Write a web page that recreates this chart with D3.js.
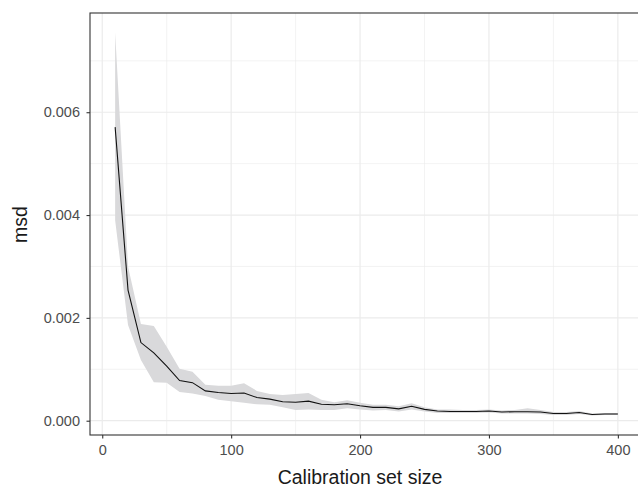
<!DOCTYPE html>
<html>
<head>
<meta charset="utf-8">
<script src="https://cdn.jsdelivr.net/npm/d3@7"></script>
<style>
  body { margin: 0; background: #fff; }
  svg { display: block; font-family: "Liberation Sans", Arial, sans-serif; }
</style>
</head>
<body>
<div id="chart"></div>
<script>
// calibration set sizes
const sizes = [10, 20, 30, 40, 50, 60, 70, 80, 90, 100,
  110, 120, 130, 140, 150, 160, 170, 180, 190, 200,
  210, 220, 230, 240, 250, 260, 270, 280, 290, 300,
  310, 320, 330, 340, 350, 360, 370, 380, 390, 400];

const msd = [0.00571, 0.00254, 0.00152, 0.00132, 0.00106, 0.00078, 0.00074, 0.00058, 0.00055, 0.00053,
  0.00054, 0.00045, 0.00042, 0.00037, 0.00036, 0.00038, 0.00032, 0.00031, 0.00033, 0.00029,
  0.00026, 0.00026, 0.00023, 0.00028, 0.00022, 0.00019, 0.00018, 0.00018, 0.00018, 0.00019,
  0.00017, 0.000175, 0.000175, 0.00017, 0.00014, 0.00014, 0.00016, 0.00012, 0.00013, 0.00013];

const msdLower = [0.0039, 0.00186, 0.00118, 0.00075, 0.00074, 0.00056, 0.00053, 0.00048, 0.00041, 0.00038,
  0.00035, 0.00032, 0.00031, 0.00026, 0.00021, 0.00022, 0.00021, 0.00021, 0.00024, 0.00022,
  0.0002, 0.00021, 0.00018, 0.00022, 0.00018, 0.00015, 0.00015, 0.00015, 0.00015, 0.00016,
  0.00014, 0.00014, 0.00014, 0.00013, 0.00011, 0.00011, 0.00013, 0.0001, 0.00011, 0.00011];

const msdUpper = [0.00755, 0.003, 0.00188, 0.00184, 0.00144, 0.00101, 0.00095, 0.0007, 0.00068, 0.00068,
  0.00073, 0.00058, 0.00052, 0.0005, 0.00052, 0.00054, 0.00041, 0.00036, 0.0004, 0.00035,
  0.00031, 0.00031, 0.00028, 0.00034, 0.00026, 0.00022, 0.00022, 0.00021, 0.00021, 0.00022,
  0.0002, 0.00021, 0.00024, 0.00021, 0.00017, 0.00017, 0.00019, 0.00014, 0.00015, 0.00015];

const xTicks = [0, 100, 200, 300, 400];
const xMinor = [50, 150, 250, 350];
const yTicks = [0, 0.002, 0.004, 0.006];
const yMinor = [0.001, 0.003, 0.005, 0.007];

const data = sizes.map((s, i) => ({ size: s, msd: msd[i], lo: msdLower[i], hi: msdUpper[i] }));

const W = 638, H = 488;
const panel = { left: 90, top: 13, right: 643, bottom: 435 };

const svg = d3.select("#chart").append("svg")
  .attr("width", W).attr("height", H);

svg.append("rect").attr("width", W).attr("height", H).attr("fill", "#fff");

const x = d3.scaleLinear().domain([-9.5, 419.5]).range([panel.left, panel.right]);
const y = d3.scaleLinear().domain([-0.000278, 0.00793]).range([panel.bottom, panel.top]);

// grid
const grid = svg.append("g");
grid.selectAll(".xminor").data(xMinor).join("line")
  .attr("x1", d => x(d)).attr("x2", d => x(d))
  .attr("y1", panel.top).attr("y2", panel.bottom)
  .attr("stroke", "#ebebeb").attr("stroke-width", 0.6);
grid.selectAll(".yminor").data(yMinor).join("line")
  .attr("x1", panel.left).attr("x2", panel.right)
  .attr("y1", d => y(d)).attr("y2", d => y(d))
  .attr("stroke", "#ebebeb").attr("stroke-width", 0.6);
grid.selectAll(".xmajor").data(xTicks).join("line")
  .attr("x1", d => x(d)).attr("x2", d => x(d))
  .attr("y1", panel.top).attr("y2", panel.bottom)
  .attr("stroke", "#ebebeb").attr("stroke-width", 1.2);
grid.selectAll(".ymajor").data(yTicks).join("line")
  .attr("x1", panel.left).attr("x2", panel.right)
  .attr("y1", d => y(d)).attr("y2", d => y(d))
  .attr("stroke", "#ebebeb").attr("stroke-width", 1.2);

// ribbon
svg.append("path")
  .datum(data)
  .attr("fill", "#d9d9db")
  .attr("d", d3.area().x(d => x(d.size)).y0(d => y(d.lo)).y1(d => y(d.hi)));

// line
svg.append("path")
  .datum(data)
  .attr("fill", "none")
  .attr("stroke", "#111")
  .attr("stroke-width", 1.1)
  .attr("d", d3.line().x(d => x(d.size)).y(d => y(d.msd)));

// panel border
svg.append("rect")
  .attr("x", panel.left).attr("y", panel.top)
  .attr("width", panel.right - panel.left).attr("height", panel.bottom - panel.top)
  .attr("fill", "none").attr("stroke", "#333").attr("stroke-width", 1.1);

// axes
const xAxis = svg.append("g")
  .attr("transform", `translate(0,${panel.bottom})`)
  .call(d3.axisBottom(x).tickValues(xTicks).tickSize(3.5).tickPadding(6.5).tickFormat(d3.format("d")));
const yAxis = svg.append("g")
  .attr("transform", `translate(${panel.left},0)`)
  .call(d3.axisLeft(y).tickValues(yTicks).tickSize(3.5).tickPadding(6.5).tickFormat(d3.format(".3f")));

[xAxis, yAxis].forEach(a => {
  a.select(".domain").remove();
  a.selectAll(".tick line").attr("stroke", "#333").attr("stroke-width", 1.1);
  a.selectAll(".tick text").attr("fill", "#4d4d4d").style("font-size", "14.5px")
    .style("font-family", "'Liberation Sans', Arial, sans-serif");
});

// axis titles
svg.append("text")
  .attr("x", 360).attr("y", 483.5)
  .attr("text-anchor", "middle")
  .attr("fill", "#1a1a1a")
  .style("font-size", "19.5px")
  .text("Calibration set size");

svg.append("text")
  .attr("transform", "translate(27,224.5) rotate(-90)")
  .attr("text-anchor", "middle")
  .attr("fill", "#1a1a1a")
  .style("font-size", "19.5px")
  .text("msd");
</script>
</body>
</html>
